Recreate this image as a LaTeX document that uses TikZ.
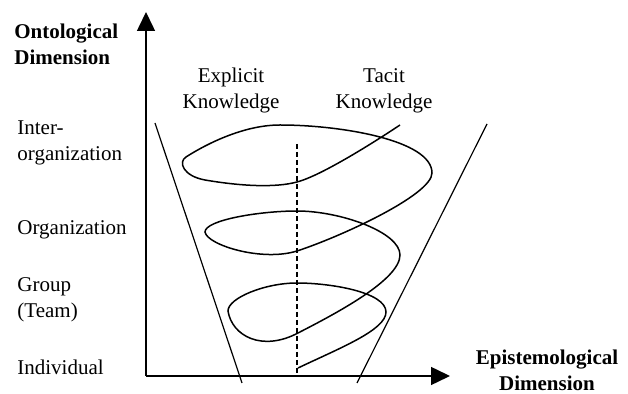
\documentclass[tikz,border=0pt]{standalone}
\usepackage{fontspec}
\setmainfont{Liberation Serif}
\usetikzlibrary{positioning, arrows.meta}

\begin{document}
\begin{tikzpicture}[x=0.5pt, y=-0.5pt,
    axisline/.style={line width=0.75pt, -{Triangle[length=9.5pt, width=9pt]}},
    funnel/.style={line width=0.6pt},
    spiral/.style={line width=0.75pt},
    divider/.style={line width=0.75pt, dash pattern=on 2.5pt off 1.5pt},
    dimlabel/.style={font=\fontsize{10.5}{13}\selectfont\bfseries, inner sep=0pt},
    levellabel/.style={font=\fontsize{10.5}{13}\selectfont, inner sep=0pt}]
    \useasboundingbox (0,0) rectangle (628,394);

    % Axes
    \coordinate (O) at (146,376);
    \coordinate (Y) at (146,12);
    \coordinate (X) at (450,376);
    \draw[axisline] (O) -- (Y);
    \draw[axisline] (O) -- (X);

    % Funnel and divider
    \coordinate (L1) at (155,123);
    \coordinate (L2) at (242,383);
    \coordinate (R1) at (487,124);
    \coordinate (R2) at (357,383);
    \coordinate (D1) at (297,144);
    \coordinate (D2) at (297,376);
    \draw[funnel] (L1) -- (L2);
    \draw[funnel] (R1) -- (R2);
    \draw[divider] (D1) -- (D2);

    % Spiral
    \draw[spiral] (298,368) .. controls (340,348) and (386,330) .. (386,312)
        .. controls (386,292) and (330,283) .. (297,283)
        .. controls (265,283) and (228,298) .. (228,311)
        .. controls (232,336) and (262,352) .. (298,333)
        .. controls (335,314) and (400,280) .. (400,255)
        .. controls (400,232) and (340,211) .. (297,211)
        .. controls (260,211) and (205,220) .. (205,232)
        .. controls (207,245) and (262,262) .. (297,251)
        .. controls (340,237) and (432,195) .. (432,173)
        .. controls (432,140) and (340,125) .. (280,125)
        .. controls (240,125) and (200,148) .. (186,157)
        .. controls (178,162) and (183,176) .. (205,180)
        .. controls (240,186) and (275,188) .. (297,182)
        .. controls (320,176) and (370,145) .. (400,125);

    % Labels (base = last line)
    \node[dimlabel, align=left, anchor=base west] (ont) at (14,65) {Ontological\\Dimension};
    \node[dimlabel, align=center, anchor=base] (epi) at (547,391) {Epistemological\\Dimension};
    \node[levellabel, align=center, anchor=base] (expl) at (231,109) {Explicit\\Knowledge};
    \node[levellabel, align=center, anchor=base] (tacit) at (384,109) {Tacit\\Knowledge};
    \node[levellabel, align=left, anchor=base west] (inter) at (17,161) {Inter-\\organization};
    \node[levellabel, anchor=base west] (org) at (17,235) {Organization};
    \node[levellabel, align=left, anchor=base west] (group) at (17,318) {Group\\(Team)};
    \node[levellabel, anchor=base west] (indiv) at (17,375) {Individual};

\end{tikzpicture}
\end{document}
